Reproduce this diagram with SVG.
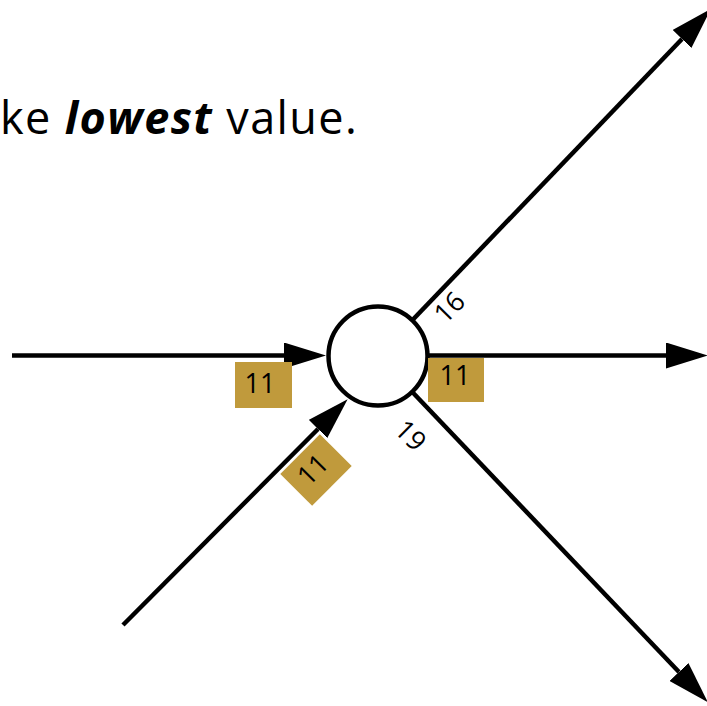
<svg xmlns="http://www.w3.org/2000/svg" width="707" height="706" viewBox="0 0 707 706">
<style>
.ln{stroke:#000;stroke-width:4.5;fill:none}
.box{fill:#C09A3C}
.lbl{font-family:"Open Sans","Liberation Sans",sans-serif;font-size:27px;fill:#000;text-anchor:middle}
.title{font-family:"Open Sans","Liberation Sans",sans-serif;font-size:45px;fill:#000;letter-spacing:1.4px}
</style>
<defs>
<marker id="ah" markerUnits="userSpaceOnUse" viewBox="0 0 42 26" markerWidth="42" markerHeight="26" refX="0" refY="13" orient="auto">
<path d="M0,0 L42,13 L0,26 z" fill="#000"/>
</marker>
</defs>
<rect width="707" height="706" fill="#fff"/>
<text class="title" x="0" y="134">ke <tspan font-weight="bold" font-style="italic">lowest</tspan> value.</text>
<g id="connectors">
<line class="ln" x1="12" y1="355.5" x2="284" y2="355.5" marker-end="url(#ah)"/>
<line class="ln" x1="378" y1="355.5" x2="666" y2="355.5" marker-end="url(#ah)"/>
<line class="ln" x1="378" y1="356" x2="682" y2="39" marker-end="url(#ah)"/>
<line class="ln" x1="378" y1="356" x2="679" y2="672" marker-end="url(#ah)"/>
<line class="ln" x1="123" y1="625" x2="318" y2="429" marker-end="url(#ah)"/>
</g>
<g id="node">
<circle cx="378" cy="356" r="49.5" fill="#fff" stroke="#000" stroke-width="4.5"/>
</g>
<g id="label-in-left">
<rect class="box" x="235" y="362" width="57" height="46"/>
<text class="lbl" x="260" y="393">11</text>
</g>
<g id="label-out-right">
<rect class="box" x="428" y="358" width="56" height="44"/>
<text class="lbl" x="455" y="385">11</text>
</g>
<g id="label-in-diag" transform="translate(316,470) rotate(-45)">
<rect class="box" x="-28" y="-22.5" width="56" height="45"/>
<text class="lbl" x="-2" y="7">11</text>
</g>
<g id="label-16" transform="translate(449,307) rotate(-45)">
<text class="lbl" x="0" y="10">16</text>
</g>
<g id="label-19" transform="translate(411,435) rotate(45)">
<text class="lbl" x="0" y="10">19</text>
</g>
</svg>
